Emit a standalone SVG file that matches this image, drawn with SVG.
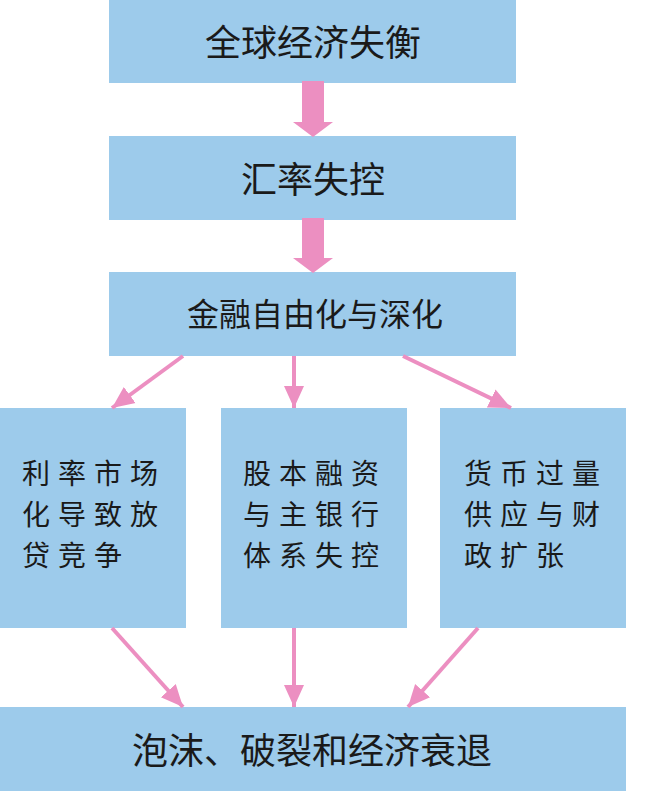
<svg xmlns="http://www.w3.org/2000/svg" width="649" height="810" viewBox="0 0 649 810">
<style>
.box{fill:#9dcbeb}
.t{font-family:"Liberation Serif","Noto Sans CJK SC",serif;fill:#1a1a1a;text-anchor:middle}
.tl{font-family:"Noto Sans CJK SC",sans-serif;fill:#1a1a1a;font-size:28px;letter-spacing:8px}
.ln{stroke:#ec8fc1;stroke-width:4;fill:none;marker-end:url(#ah)}
.big{fill:#ec8fc1}
</style>
<defs>
<marker id="ah" markerUnits="userSpaceOnUse" markerWidth="24" markerHeight="24" viewBox="0 0 24 24" refX="22" refY="12" orient="auto">
<polygon points="0,2 22,12 0,22" fill="#ec8fc1"/>
</marker>
</defs>
<rect width="649" height="810" fill="#fff"/>
<g id="n1"><rect class="box" x="109" y="0" width="407" height="83"/><text class="t" x="313" y="56" font-size="36">全球经济失衡</text></g>
<g id="n2"><rect class="box" x="109" y="136" width="407" height="84"/><text class="t" x="313" y="193" font-size="36">汇率失控</text></g>
<g id="n3"><rect class="box" x="109" y="272" width="407" height="84"/><text class="t" x="315" y="326" font-size="32">金融自由化与深化</text></g>
<g id="n4"><rect class="box" x="0" y="408" width="186" height="220"/><text class="tl" x="22" y="484">利率市场</text><text class="tl" x="22" y="525">化导致放</text><text class="tl" x="22" y="566">贷竞争</text></g>
<g id="n5"><rect class="box" x="221" y="408" width="186" height="220"/><text class="tl" x="243" y="484">股本融资</text><text class="tl" x="243" y="525">与主银行</text><text class="tl" x="243" y="566">体系失控</text></g>
<g id="n6"><rect class="box" x="440" y="408" width="186" height="220"/><text class="tl" x="464" y="484">货币过量</text><text class="tl" x="464" y="525">供应与财</text><text class="tl" x="464" y="566">政扩张</text></g>
<g id="n7"><rect class="box" x="0" y="707" width="626" height="84"/><text class="t" x="312" y="764" font-size="36">泡沫、破裂和经济衰退</text></g>
<g id="connectors">
<polygon class="big" points="302,81 324,81 324,122 333,122 313,137 293,122 302,122"/>
<polygon class="big" points="302,218 324,218 324,258 333,258 313,273 293,258 302,258"/>
<line class="ln" x1="183" y1="356" x2="112" y2="408"/>
<line class="ln" x1="294" y1="356" x2="294" y2="408"/>
<line class="ln" x1="403" y1="356" x2="511" y2="408"/>
<line class="ln" x1="112" y1="628" x2="183" y2="707"/>
<line class="ln" x1="294" y1="628" x2="294" y2="707"/>
<line class="ln" x1="478" y1="628" x2="408" y2="707"/>
</g>
</svg>
